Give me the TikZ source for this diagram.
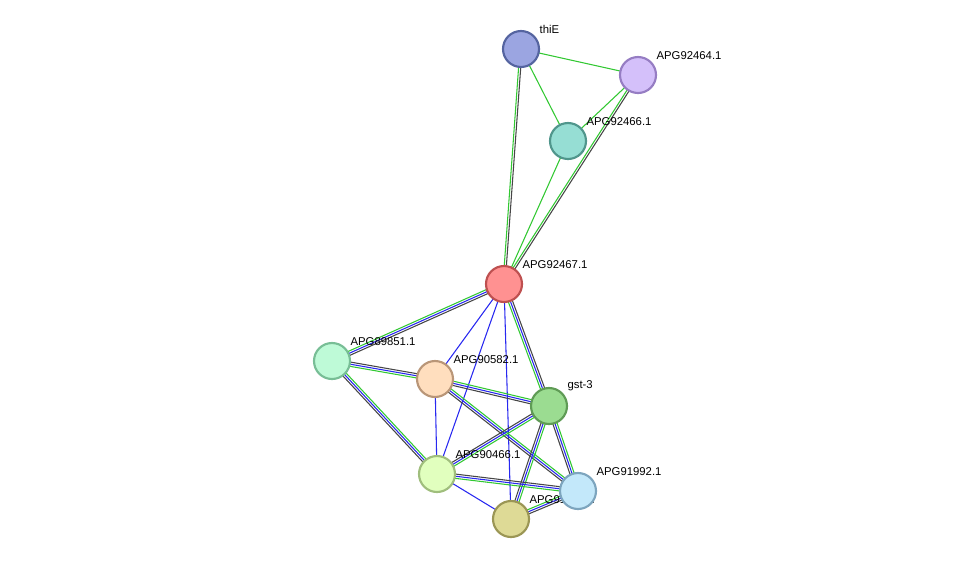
\documentclass[tikz,border=0pt]{standalone}
\usepackage{fontspec}
\setmainfont{Liberation Sans}
\usetikzlibrary{calc}
\definecolor{eg}{RGB}{50,200,50}
\definecolor{eb}{RGB}{40,40,240}
\definecolor{ek}{RGB}{70,70,70}
\tikzset{
  prot/.style={circle, draw, line width=1.6pt, minimum size=27pt, inner sep=0pt},
  lab/.style={anchor=south west, font=\fontsize{8.5}{9}\selectfont, inner sep=1pt}
}
% bundle of parallel lines between two named nodes
\newcommand{\link}[4]{%
  \foreach \c [count=\i] in {#4} {
    \pgfmathsetmacro\o{(\i-1)*1.6-(#3-1)*0.8}
    \draw[\c, line width=0.8pt] ($(#1)!\o pt!90:(#2)$) -- ($(#2)!\o pt!-90:(#1)$);
  }}
\begin{document}
\begin{tikzpicture}[x=0.75pt, y=-0.75pt]
  \useasboundingbox (0,0) rectangle (975,565);
  % positions
  \coordinate (thie) at (521,49);
  \coordinate (a64) at (638,75);
  \coordinate (a66) at (568,141);
  \coordinate (a67) at (504,284);
  \coordinate (a51) at (332,361);
  \coordinate (a82) at (435,379);
  \coordinate (gst) at (549,406);
  \coordinate (a466) at (437,474);
  \coordinate (a92) at (578,491);
  \coordinate (bot) at (511,519);
  % edges
  \link{thie}{a64}{1}{eg}
  \link{thie}{a66}{1}{eg}
  \link{thie}{a67}{2}{eg,ek}
  \link{a64}{a66}{1}{eg}
  \link{a64}{a67}{2}{eg,ek}
  \link{a66}{a67}{1}{eg}
  \link{a67}{a51}{3}{eg,eb,ek}
  \link{a67}{a82}{1}{eb}
  \link{a67}{a466}{1}{eb}
  \link{a67}{bot}{1}{eb}
  \link{a67}{gst}{3}{eg,eb,ek}
  \link{a51}{a82}{3}{eg,eb,ek}
  \link{a51}{a466}{3}{ek,eb,eg}
  \link{a82}{gst}{3}{ek,eb,eg}
  \link{a82}{a466}{1}{eb}
  \link{a82}{a92}{3}{ek,eb,eg}
  \link{gst}{a466}{3}{ek,eb,eg}
  \link{gst}{a92}{3}{ek,eb,eg}
  \link{gst}{bot}{3}{ek,eb,eg}
  \link{a466}{a92}{3}{eg,eb,ek}
  \link{a466}{bot}{1}{eb}
  \link{bot}{a92}{3}{ek,eb,eg}
  % labels
  \node[lab] at ($(thie)+(17,-14)$) {thiE};
  \node[lab] at ($(a64)+(17,-14)$) {APG92464.1};
  \node[lab] at ($(a66)+(17,-14)$) {APG92466.1};
  \node[lab] at ($(a67)+(17,-14)$) {APG92467.1};
  \node[lab] at ($(a51)+(17,-14)$) {APG89851.1};
  \node[lab] at ($(a82)+(17,-14)$) {APG90582.1};
  \node[lab] at ($(gst)+(17,-14)$) {gst-3};
  \node[lab] at ($(a466)+(17,-14)$) {APG90466.1};
  \node[lab] at ($(a92)+(17,-14)$) {APG91992.1};
  \node[lab] at ($(bot)+(17,-14)$) {APG91993.1};
  % proteins
  \node[prot, fill={rgb,255:red,155;green,165;blue,225}, draw={rgb,255:red,85;green,100;blue,160}] (n1) at (thie) {};
  \node[prot, fill={rgb,255:red,212;green,192;blue,250}, draw={rgb,255:red,150;green,125;blue,195}] (n2) at (a64) {};
  \node[prot, fill={rgb,255:red,150;green,222;blue,212}, draw={rgb,255:red,80;green,150;blue,140}] (n3) at (a66) {};
  \node[prot, fill={rgb,255:red,255;green,145;blue,145}, draw={rgb,255:red,190;green,80;blue,80}] (n4) at (a67) {};
  \node[prot, fill={rgb,255:red,190;green,250;blue,215}, draw={rgb,255:red,120;green,190;blue,150}] (n5) at (a51) {};
  \node[prot, fill={rgb,255:red,255;green,222;blue,190}, draw={rgb,255:red,185;green,150;blue,120}] (n6) at (a82) {};
  \node[prot, fill={rgb,255:red,155;green,220;blue,145}, draw={rgb,255:red,95;green,155;blue,85}] (n7) at (gst) {};
  \node[prot, fill={rgb,255:red,225;green,255;blue,190}, draw={rgb,255:red,160;green,190;blue,125}] (n8) at (a466) {};
  \node[prot, fill={rgb,255:red,195;green,232;blue,250}, draw={rgb,255:red,125;green,165;blue,190}] (n9) at (a92) {};
  \node[prot, fill={rgb,255:red,222;green,218;blue,150}, draw={rgb,255:red,155;green,150;blue,85}] (n10) at (bot) {};
\end{tikzpicture}
\end{document}
